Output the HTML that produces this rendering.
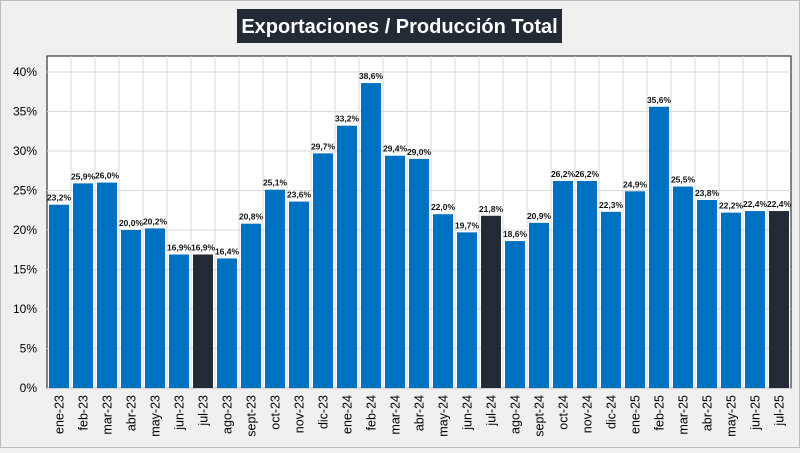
<!DOCTYPE html>
<html><head><meta charset="utf-8"><style>
html,body{margin:0;padding:0;background:#f0f0f0;}
body{width:800px;height:448px;overflow:hidden;font-family:"Liberation Sans",sans-serif;}
</style></head><body>
<svg id="chart" width="800" height="448" xmlns="http://www.w3.org/2000/svg">
<rect x="0.5" y="0.5" width="799" height="447" fill="#f0f0f0" stroke="#bdbdbd"/>
<rect x="237" y="9" width="325" height="34" fill="#222a35"/>
<text x="399.5" y="33" text-anchor="middle" font-size="20" font-weight="bold" fill="#ffffff">Exportaciones  / Producción Total</text>
<rect x="47" y="56" width="744" height="332" fill="#ffffff" stroke="#333" stroke-width="1.2"/>
<g id="grid"></g><g id="bars"></g><g id="labels"></g><g id="yticks"></g><g id="xticks"></g>
</svg>
<script>
const categories=["ene-23","feb-23","mar-23","abr-23","may-23","jun-23","jul-23","ago-23","sept-23","oct-23","nov-23","dic-23","ene-24","feb-24","mar-24","abr-24","may-24","jun-24","jul-24","ago-24","sept-24","oct-24","nov-24","dic-24","ene-25","feb-25","mar-25","abr-25","may-25","jun-25","jul-25"];
const values=[23.2,25.9,26.0,20.0,20.2,16.9,16.9,16.4,20.8,25.1,23.6,29.7,33.2,38.6,29.4,29.0,22.0,19.7,21.8,18.6,20.9,26.2,26.2,22.3,24.9,35.6,25.5,23.8,22.2,22.4,22.4];
const highlighted=["jul-23","jul-24","jul-25"];
const yTicks=[0,5,10,15,20,25,30,35,40];
const NS="http://www.w3.org/2000/svg";
const X0=47,X1=791,Y0=388,Y40=72;
const slot=(X1-X0)/categories.length;
const y=v=>Y0-(v/40)*(Y0-Y40);
const x=i=>X0+i*slot;
function mk(t,a,p){const e=document.createElementNS(NS,t);for(const k in a)e.setAttribute(k,a[k]);document.getElementById(p).appendChild(e);return e;}
yTicks.forEach(t=>{
  const g=mk("line",{x1:X0,x2:X1,y1:y(t),y2:y(t),stroke:"#d9d9d9","stroke-width":1},"grid");
  
  
  const l=mk("text",{x:37,y:y(t)+4,"text-anchor":"end","font-size":"12",fill:"#000"},"yticks");
  l.textContent=t+"%";
  
  
});
for(let i=1;i<categories.length;i++){
  const g=mk("line",{x1:x(i),x2:x(i),y1:56,y2:Y0,stroke:"#d9d9d9","stroke-width":1},"grid");
  
  
}
categories.forEach((c,i)=>{
  const v=values[i];
  const b=mk("rect",{x:x(i)+2,y:y(v),width:slot-4,height:Y0-y(v),fill:highlighted.includes(c)?"#222a35":"#0070c0"},"bars");
  
  
  const t=mk("text",{x:x(i)+slot/2,y:y(v)-4,"text-anchor":"middle","font-size":"8.5","font-weight":"bold",fill:"#111"},"labels");
  t.textContent=v.toFixed(1).replace(".",",")+"%";
  
  
  const cx=x(i)+slot/2+4.5;
  const xl=mk("text",{x:cx,y:395,"text-anchor":"end","font-size":"12.5",fill:"#000",transform:`rotate(-90 ${cx} 395)`},"xticks");
  xl.textContent=c;
  
  
});
</script>
</body></html>
